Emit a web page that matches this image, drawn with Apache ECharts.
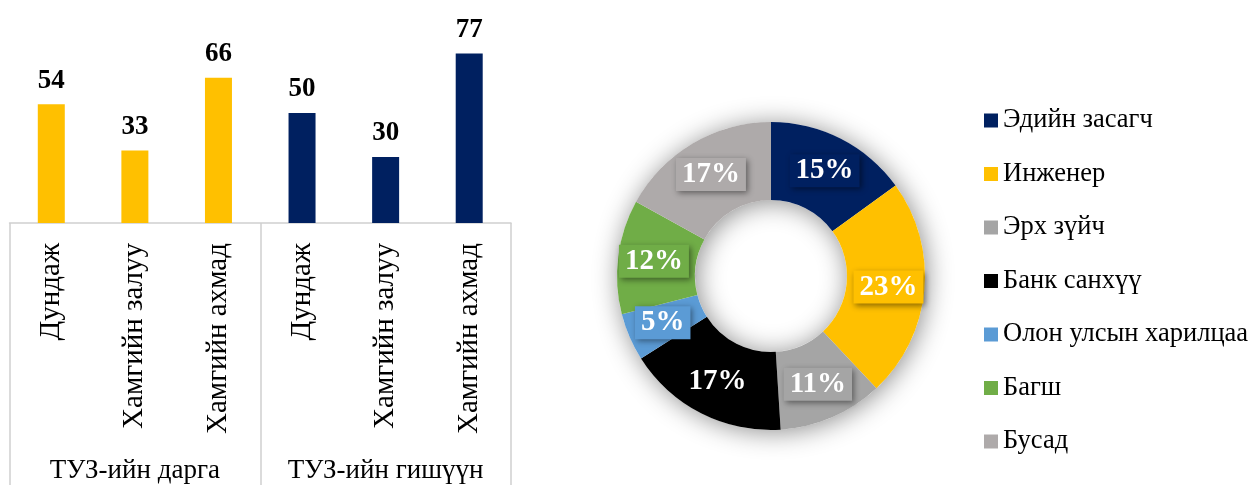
<!DOCTYPE html>
<html>
<head>
<meta charset="utf-8">
<script src="https://cdn.jsdelivr.net/npm/echarts@6/dist/echarts.min.js"></script>
<style>
html, body { margin: 0; padding: 0; background: #fff; }
#chart { width: 1254px; height: 485px; }
</style>
</head>
<body>
<div id="chart"></div>
<script>
var groups = ['ТУЗ-ийн дарга', 'ТУЗ-ийн гишүүн'];
var ageLabels = ['Дундаж', 'Хамгийн залуу', 'Хамгийн ахмад', 'Дундаж', 'Хамгийн залуу', 'Хамгийн ахмад'];
var ageValues = [54, 33, 66, 50, 30, 77];
var groupColors = ['#FFC000', '#002060'];

var fieldNames = ['Эдийн засагч', 'Инженер', 'Эрх зүйч', 'Банк санхүү', 'Олон улсын харилцаа', 'Багш', 'Бусад'];
var fieldShares = [15, 23, 11, 17, 5, 12, 17];
var fieldColors = ['#002060', '#FFC000', '#A5A5A5', '#000000', '#5B9BD5', '#70AD47', '#AEAAAA'];

var serif = '"Liberation Serif", "Times New Roman", serif';

var myChart = echarts.init(document.getElementById('chart'), null, {renderer: 'canvas'});

var pieData = fieldNames.map(function(name, i){
    return {
        name: name,
        value: fieldShares[i],
        itemStyle: {color: fieldColors[i]},
        label: {backgroundColor: fieldColors[i]}
    };
});

var option = {
    animation: false,
    grid: {left: 9.5, right: 743, top: 25, bottom: 262, containLabel: false},
    xAxis: [{
        type: 'category',
        data: ageLabels,
        position: 'bottom',
        axisLine: {show: true, lineStyle: {color: '#D0D0D0', width: 1.5}},
        axisTick: {show: false},
        axisLabel: {
            rotate: 90,
            interval: 0,
            margin: 20,
            fontFamily: serif,
            fontSize: 29,
            color: '#000'
        }
    }, {
        type: 'category',
        data: groups,
        position: 'bottom',
        axisLine: {show: false},
        axisTick: {show: true, interval: 0, length: 265, lineStyle: {color: '#D0D0D0', width: 1.5}},
        axisLabel: {
            interval: 0,
            margin: 234,
            fontFamily: serif,
            fontSize: 27,
            color: '#000'
        }
    }],
    yAxis: {type: 'value', min: 0, max: 90, show: false},
    legend: {
        orient: 'vertical',
        left: 979,
        top: 102,
        itemWidth: 14,
        itemHeight: 14,
        itemGap: 26.5,
        icon: 'rect',
        data: fieldNames,
        textStyle: {fontFamily: serif, fontSize: 26.5, color: '#000'}
    },
    series: [{
        type: 'bar',
        xAxisIndex: 0,
        data: ageValues,
        barWidth: 27,
        itemStyle: {
            color: function(p){ return groupColors[p.dataIndex < 3 ? 0 : 1]; }
        },
        label: {
            show: true,
            position: 'top',
            distance: 5,
            offset: [0, -5],
            fontFamily: serif,
            fontWeight: 'bold',
            fontSize: 27,
            color: '#000'
        }
    }, {
        // shadow ring behind the donut
        type: 'pie',
        silent: true,
        center: [771, 276],
        radius: [76, 154],
        label: {show: false},
        labelLine: {show: false},
        data: [{name: '', value: 1}],
        itemStyle: {color: '#fff', shadowBlur: 26, shadowColor: 'rgba(0,0,0,0.45)', shadowOffsetX: 2, shadowOffsetY: 2},
        tooltip: {show: false}
    }, {
        type: 'pie',
        center: [771, 276],
        radius: [76, 154],
        startAngle: 90,
        data: pieData,
        label: {
            show: true,
            position: 'inside',
            formatter: '{c}%',
            fontFamily: serif,
            fontWeight: 'bold',
            fontSize: 29,
            color: '#fff',
            padding: [3, 6, 1, 6],
            shadowColor: 'rgba(0,0,0,0.45)',
            shadowBlur: 6,
            shadowOffsetX: 2,
            shadowOffsetY: 2
        },
        labelLine: {show: false}
    }]
};

myChart.setOption(option);
</script>
</body>
</html>
